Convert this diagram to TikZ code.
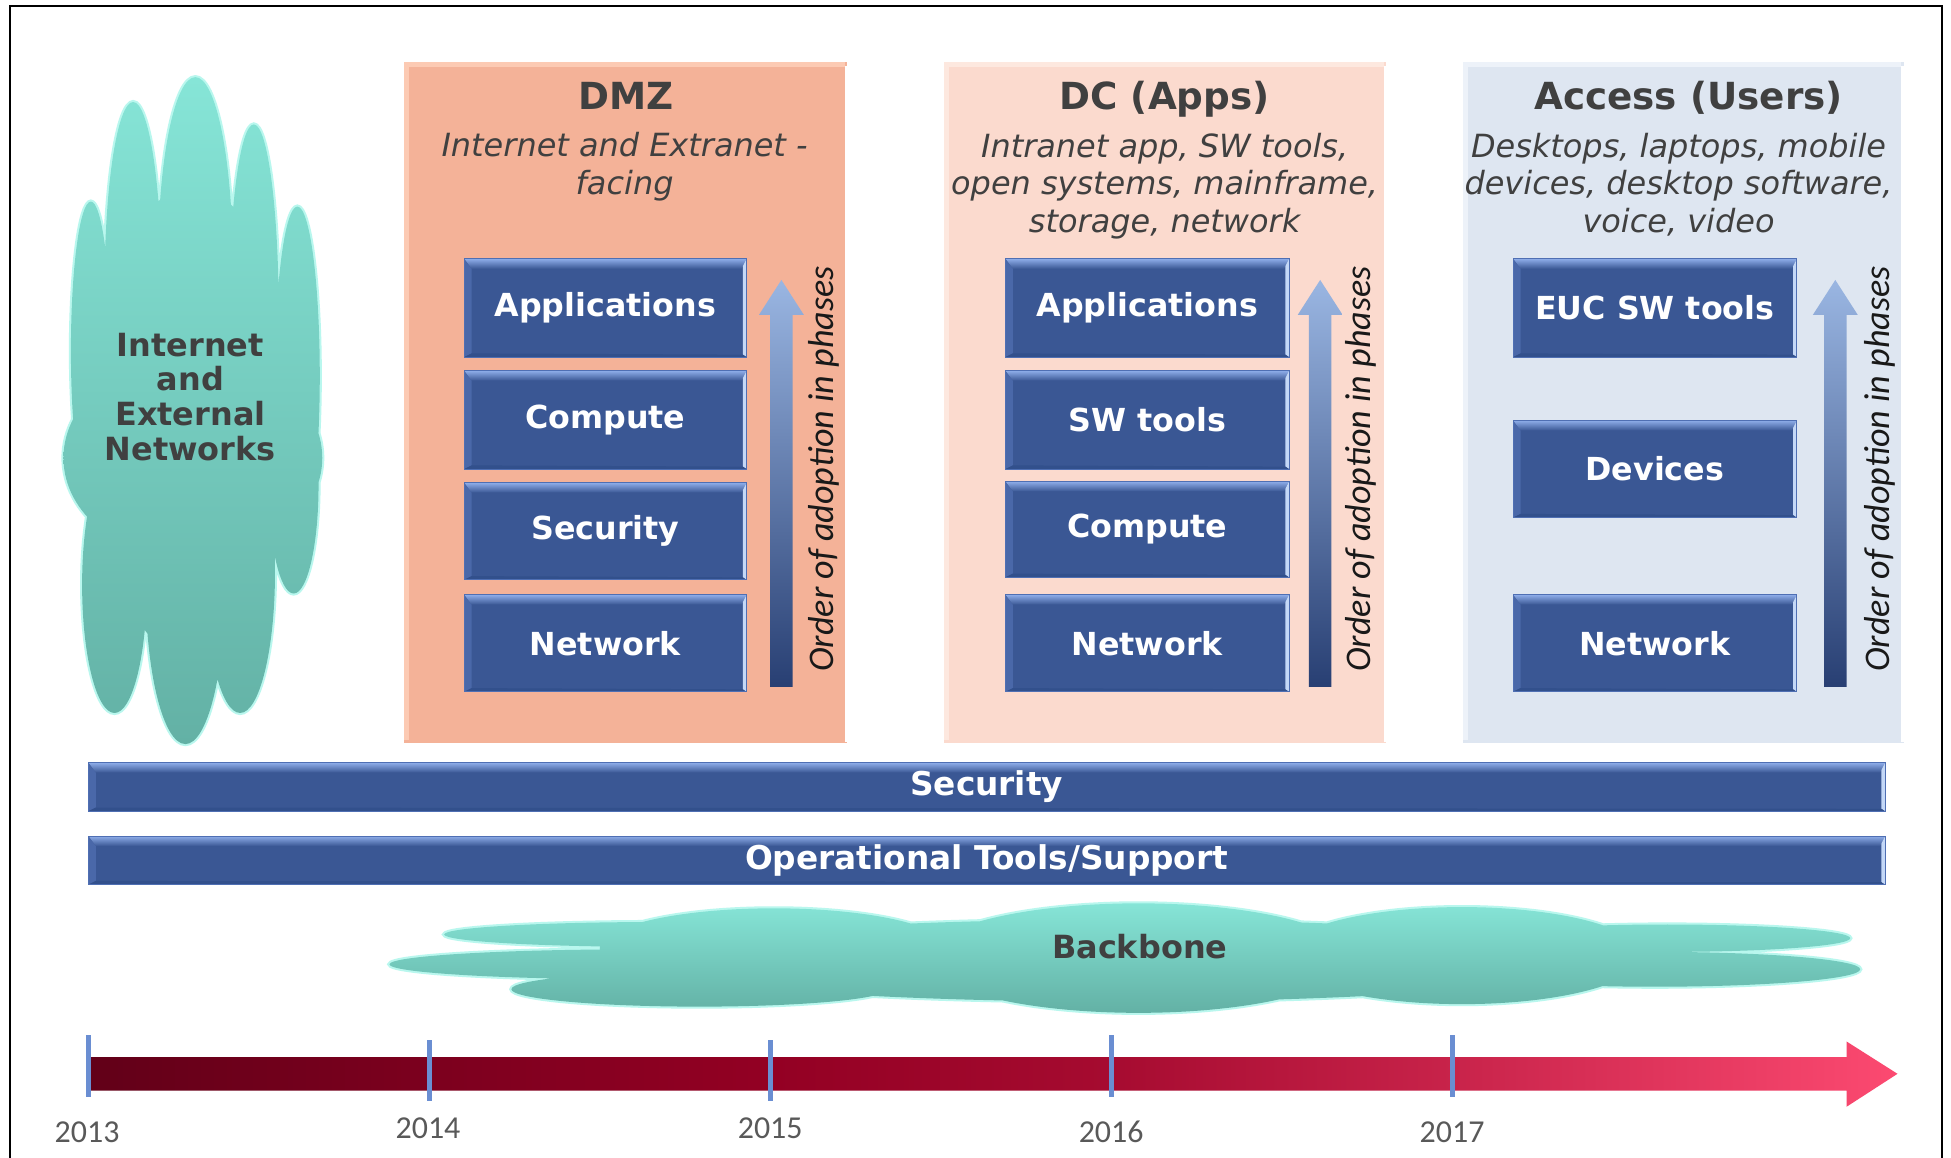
\documentclass[tikz,border=0pt]{standalone}
\usepackage{fontspec}
\setmainfont{DejaVu Sans}
\newfontfamily\calfont{Carlito}
\usetikzlibrary{calc}

% palette
\definecolor{panelA}{HTML}{F4B298}
\definecolor{panelArim}{HTML}{FCCAB3}
\definecolor{panelB}{HTML}{FBDACE}
\definecolor{panelBrim}{HTML}{FDE8DF}
\definecolor{panelC}{HTML}{DEE6F1}
\definecolor{panelCrim}{HTML}{EDF2F9}
\definecolor{boxblue}{HTML}{3A5794}
\definecolor{boxhi}{HTML}{8DACE8}
\definecolor{boxside}{HTML}{4A68A9}
\definecolor{boxrim}{HTML}{C4D8F7}
\definecolor{boxlow}{HTML}{32508C}
\definecolor{boxline}{HTML}{4F6FB3}
\definecolor{darktext}{HTML}{404040}
\definecolor{teal1}{HTML}{86E5D7}
\definecolor{teal2}{HTML}{63B1A5}
\definecolor{tealrim}{HTML}{B9F7EE}
\definecolor{tickblue}{HTML}{6A8ED2}
\definecolor{yeartext}{HTML}{595959}
\definecolor{arrtop}{HTML}{9AB6E2}
\definecolor{arrmid}{HTML}{3F66B2}
\definecolor{arrbot}{HTML}{283F73}
\definecolor{tlA}{HTML}{620018}
\definecolor{tlB}{HTML}{7C001E}
\definecolor{tlC}{HTML}{930023}
\definecolor{tlD}{HTML}{A60B30}
\definecolor{tlE}{HTML}{C8234A}
\definecolor{tlF}{HTML}{FC4A71}

\pgfdeclarehorizontalshading{timeline}{100bp}{color(0bp)=(tlA); color(25bp)=(tlA);
  color(34.4bp)=(tlB); color(43.8bp)=(tlC); color(53.2bp)=(tlD);
  color(62.7bp)=(tlE); color(75bp)=(tlF); color(100bp)=(tlF)}

\tikzset{
  boxlabel/.style={text=white, font=\bfseries\fontsize{15.3}{18}\selectfont, inner sep=0pt},
  barlabel/.style={boxlabel, font=\bfseries\fontsize{15.8}{18}\selectfont},
  paneltitle/.style={text=darktext, font=\bfseries\fontsize{18}{21}\selectfont, inner sep=0pt, anchor=base},
  panelsub/.style={text=darktext, font=\itshape\fontsize{15.4}{18.2}\selectfont, inner sep=0pt, align=center, anchor=base},
  phasetext/.style={text=black!90, font=\calfont\itshape\fontsize{17.4}{20}\selectfont, rotate=90, inner sep=0pt},
  cloudtext/.style={text=darktext, font=\bfseries\fontsize{15.4}{16.8}\selectfont, align=center, inner sep=0pt},
  yearlabel/.style={text=yeartext, font=\calfont\fontsize{15.4}{18}\selectfont, inner sep=0pt},
  tickline/.style={draw=tickblue, line width=2.4pt},
  framing/.style={draw=black, line width=1pt},
}

% bevelled blue box: name, x1, y1, x2, y2, label, label style
\newcommand\bevbox[7][boxlabel]{%
  \fill[boxblue] (#3,#4) rectangle (#5,#6);
  \shade[top color=boxhi, bottom color=boxblue] (#3,#4) -- (#5,#4) -- (#5-4,#4+8) -- (#3+6,#4+8) -- cycle;
  \fill[boxside] (#3,#4) -- (#3+6,#4+8) -- (#3+6,#6-3) -- (#3,#6) -- cycle;
  \fill[boxrim] (#5,#4) -- (#5,#6) -- (#5-3,#6-2) -- (#5-3,#4+6) -- cycle;
  \fill[boxlow] (#3,#6) -- (#5,#6) -- (#5-3,#6-2) -- (#3+6,#6-3) -- cycle;
  \draw[boxline, line width=0.5pt] (#3,#4) rectangle (#5,#6);
  \node[#1] (#2) at ({(#3+#5)/2},{(#4+#6)/2}) {#7};
}

% panel with a soft bevelled rim: x1, y1, x2, y2, fill, rim
\newcommand\panel[6]{%
  \fill[#5] (#1,#2) rectangle (#3,#4);
  \draw[#6, line width=2.4pt] (#1+2,#4-2) -- (#1+2,#2+2) -- (#3-2,#2+2);
  \draw[white, line width=1.2pt] (#3-1,#2+3) -- (#3-1,#4-1);
}

% upward phase arrow centred on x
\newcommand\phasearrow[1]{%
  \shade[top color=arrtop, middle color=arrmid, bottom color=arrbot]
    (#1-9,552) -- (#1-9,253) -- (#1-18,253) -- (#1,225) -- (#1+18,253) -- (#1+9,253) -- (#1+9,552) -- cycle;
}

\newcommand\inetlobes{%
  (157,210) ellipse [x radius=30, y radius=148]
  (107,232) ellipse [x radius=23, y radius=150]
  (204,252) ellipse [x radius=20, y radius=152]
  (73,282) ellipse [x radius=16, y radius=120]
  (239,302) ellipse [x radius=18, y radius=136]
  (155,368) ellipse [x radius=104, y radius=82]
  (155,340) ellipse [x radius=80, y radius=190]
  (92,470) ellipse [x radius=26, y radius=103]
  (149,470) ellipse [x radius=32, y radius=128]
  (193,460) ellipse [x radius=28, y radius=113]
  (236,390) ellipse [x radius=20, y radius=87]
}

\newcommand\backbonelobes{%
  (530,751) ellipse [x radius=173, y radius=10]
  (510,775) ellipse [x radius=197, y radius=12]
  (562,795) ellipse [x radius=151, y radius=14]
  (622,762) ellipse [x radius=140, y radius=32]
  (915,770) ellipse [x radius=172, y radius=44]
  (1175,768) ellipse [x radius=145, y radius=39]
  (1340,754) ellipse [x radius=147, y radius=11]
  (1330,779) ellipse [x radius=165, y radius=14]
  (900,772) ellipse [x radius=390, y radius=33]
}

\begin{document}
\begin{tikzpicture}[x=0.6pt, y=-0.6pt]
\useasboundingbox (0,0) rectangle (1568,930);
\fill[white] (0,0) rectangle (1568,930);

% outer frame
\draw[framing] (8,940) -- (8,4.5) -- (1561,4.5) -- (1561,940);

% internet cloud
\draw[tealrim, line width=2pt] \inetlobes;
\shade[top color=teal1, bottom color=teal2] \inetlobes;
\node[cloudtext] (inet) at (153,319) {Internet\\and\\External\\Networks};

% three domain panels
\panel{325}{50}{681}{597}{panelA}{panelArim}
\panel{759}{50}{1114}{597}{panelB}{panelBrim}
\panel{1176}{50}{1530}{597}{panelC}{panelCrim}

\node[paneltitle] (dmzT) at (503,88) {DMZ};
\node[paneltitle] (dcT) at (936,88) {DC (Apps)};
\node[paneltitle] (accT) at (1357,88) {Access (Users)};

% subtitles are anchored on the baseline of their last line
\node[panelsub] (dmzS) at (502,156) {Internet and Extranet -\\facing};
\node[panelsub] (dcS) at (936,187) {Intranet app, SW tools,\\open systems, mainframe,\\storage, network};
\node[panelsub] (accS) at (1349,187) {Desktops, laptops, mobile\\devices, desktop software,\\voice, video};

% DMZ stack
\bevbox{dmzApp}{373}{208}{600}{287}{Applications}
\bevbox{dmzComp}{373}{298}{600}{377}{Compute}
\bevbox{dmzSec}{373}{388}{600}{466}{Security}
\bevbox{dmzNet}{373}{478}{600}{556}{Network}
\phasearrow{628}
\node[phasetext] (dmzP) at (662,377) {Order of adoption in phases};

% DC stack
\bevbox{dcApp}{808}{208}{1036}{287}{Applications}
\bevbox{dcSW}{808}{298}{1036}{377}{SW tools}
\bevbox{dcComp}{808}{387}{1036}{464}{Compute}
\bevbox{dcNet}{808}{478}{1036}{556}{Network}
\phasearrow{1061}
\node[phasetext] (dcP) at (1094,377) {Order of adoption in phases};

% Access stack
\bevbox{accEUC}{1216}{208}{1444}{287}{EUC SW tools}
\bevbox{accDev}{1216}{338}{1444}{416}{Devices}
\bevbox{accNet}{1216}{478}{1444}{556}{Network}
\phasearrow{1475}
\node[phasetext] (accP) at (1511,377) {Order of adoption in phases};

% horizontal layers
\bevbox[barlabel]{secBar}{71}{613}{1515}{652}{Security}
\bevbox[barlabel]{opsBar}{71}{672}{1515}{711}{Operational Tools/Support}

% backbone cloud
\draw[tealrim, line width=2pt] \backbonelobes;
\shade[top color=teal1, bottom color=teal2] \backbonelobes;
\node[cloudtext] (backbone) at (916,761) {Backbone};

% timeline
\shade[shading=timeline] (72,849.5) -- (1484,849.5) -- (1484,837) -- (1525,863) -- (1484,889.5) -- (1484,876.5) -- (72,876.5) -- cycle;
\draw[tickline] (71,832) -- (71,882);
\draw[tickline] (345,836) -- (345,885);
\draw[tickline] (619,836) -- (619,885);
\draw[tickline] (893,832) -- (893,882);
\draw[tickline] (1167,832) -- (1167,882);
\node[yearlabel] (y2013) at (70,910) {2013};
\node[yearlabel] (y2014) at (344,907) {2014};
\node[yearlabel] (y2015) at (619,907) {2015};
\node[yearlabel] (y2016) at (893,910) {2016};
\node[yearlabel] (y2017) at (1167,910) {2017};
\end{tikzpicture}
\end{document}
